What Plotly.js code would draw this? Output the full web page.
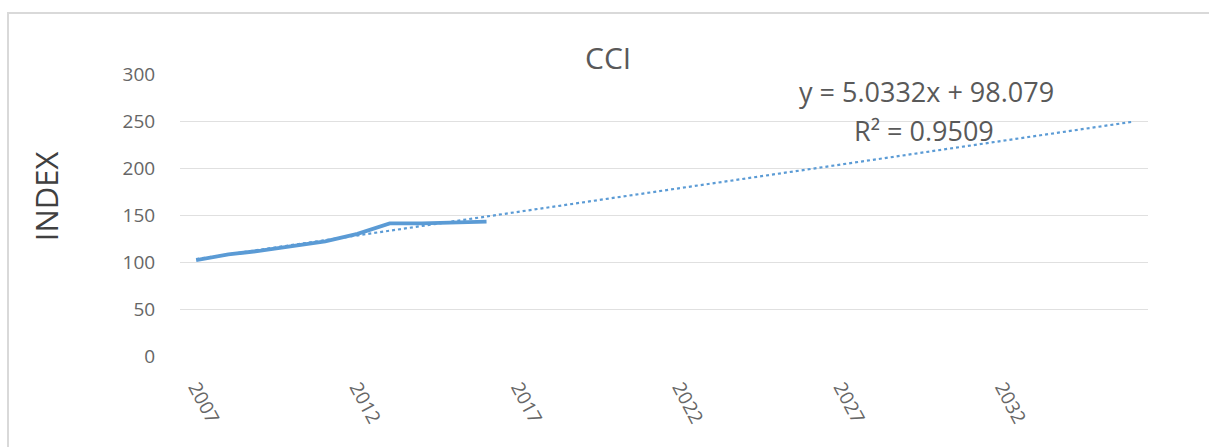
<!DOCTYPE html>
<html>
<head>
<meta charset="utf-8">
<script src="https://cdn.plot.ly/plotly-3.0.1.min.js"></script>
<style>
  html, body { margin: 0; padding: 0; background: #fff; overflow: hidden; }
  #wrap { position: relative; width: 1209px; height: 447px; overflow: hidden; }
  #chart { position: absolute; left: 0; top: 0; width: 1209px; height: 447px; }
  #frameTop { position: absolute; left: 7px; top: 12px; width: 1202px; height: 2px; background: #d9d9d9; pointer-events: none; }
  #frameLeft { position: absolute; left: 7px; top: 12px; width: 2px; height: 435px; background: #d9d9d9; pointer-events: none; }
</style>
</head>
<body>
<div id="wrap">
  <div id="chart"></div>
  <div id="frameTop"></div>
  <div id="frameLeft"></div>
</div>
<script>
// Data
const years = [2007, 2008, 2009, 2010, 2011, 2012, 2013, 2014, 2015, 2016];
const cci   = [102, 108, 112, 117, 122, 130, 141, 141, 142, 143];

// Trendline as stated on the chart (x = 1, 2, 3, ... index of the year)
const trendSlope = 5.0332;
const trendIntercept = 98.079;
const trendYears = [];
for (let yr = 2007; yr <= 2036; yr++) trendYears.push(yr);
const trendValues = trendYears.map((yr, i) => trendSlope * (i + 1) + trendIntercept);

const tickYears  = [2007, 2012, 2017, 2022, 2027, 2032];
const tickLabels = ['2007', '2012', '2017', '2022', '2027', '2032'];
const yTicks = [0, 50, 100, 150, 200, 250, 300];

const chartTitle = 'CCI';
const yTitle = 'INDEX';
const eqText = 'y = 5.0332x + 98.079';
const r2Text = 'R² = 0.9509';

const blue = '#5b9bd5';
const font = '"Open Sans", sans-serif';

const data = [
  {
    x: years, y: cci, type: 'scatter', mode: 'lines',
    line: { color: blue, width: 3.8 }, hoverinfo: 'skip', showlegend: false
  },
  {
    x: trendYears, y: trendValues, type: 'scatter', mode: 'lines',
    line: { color: blue, width: 2.2, dash: 'dot' }, hoverinfo: 'skip', showlegend: false
  }
];

const layout = {
  width: 1209, height: 447,
  margin: { l: 180, r: 61, t: 74, b: 91 },
  paper_bgcolor: 'rgba(0,0,0,0)', plot_bgcolor: 'rgba(0,0,0,0)',
  font: { family: font, color: '#666' },
  showlegend: false,
  title: {
    text: chartTitle, font: { family: font, size: 30, color: '#595959' },
    x: 0.503, xanchor: 'center', y: 0.87, yanchor: 'middle', xref: 'container', yref: 'container'
  },
  xaxis: {
    range: [2006.5, 2036.5], tickmode: 'array', tickvals: tickYears, ticktext: tickLabels,
    tickangle: 62, showgrid: false, zeroline: false,
    showline: false, ticks: 'outside', ticklen: 12, tickcolor: 'rgba(0,0,0,0)',
    tickfont: { family: font, size: 19, color: '#666' }
  },
  yaxis: {
    range: [0, 300], tickmode: 'array', tickvals: yTicks,
    showgrid: true, gridcolor: '#e0e0e0', gridwidth: 1, zeroline: false, showline: false,
    ticks: 'outside', ticklen: 20, tickcolor: 'rgba(0,0,0,0)',
    tickfont: { family: font, size: 19, color: '#666' }
  },
  annotations: [
    { x: -0.1384, y: 0.567, xref: 'paper', yref: 'paper', text: yTitle, showarrow: false,
      textangle: -90, xanchor: 'center', yanchor: 'middle',
      font: { family: font, size: 31, color: '#404040' } },
    { x: 2029.65, y: 281, xref: 'x', yref: 'y', text: eqText, showarrow: false,
      xanchor: 'center', yanchor: 'middle', font: { family: font, size: 27, color: '#595959' } },
    { x: 2029.55, y: 240, xref: 'x', yref: 'y', text: r2Text, showarrow: false,
      xanchor: 'center', yanchor: 'middle', font: { family: font, size: 27, color: '#595959' } }
  ]
};

Plotly.newPlot('chart', data, layout, { staticPlot: true, displayModeBar: false });
</script>
</body>
</html>
